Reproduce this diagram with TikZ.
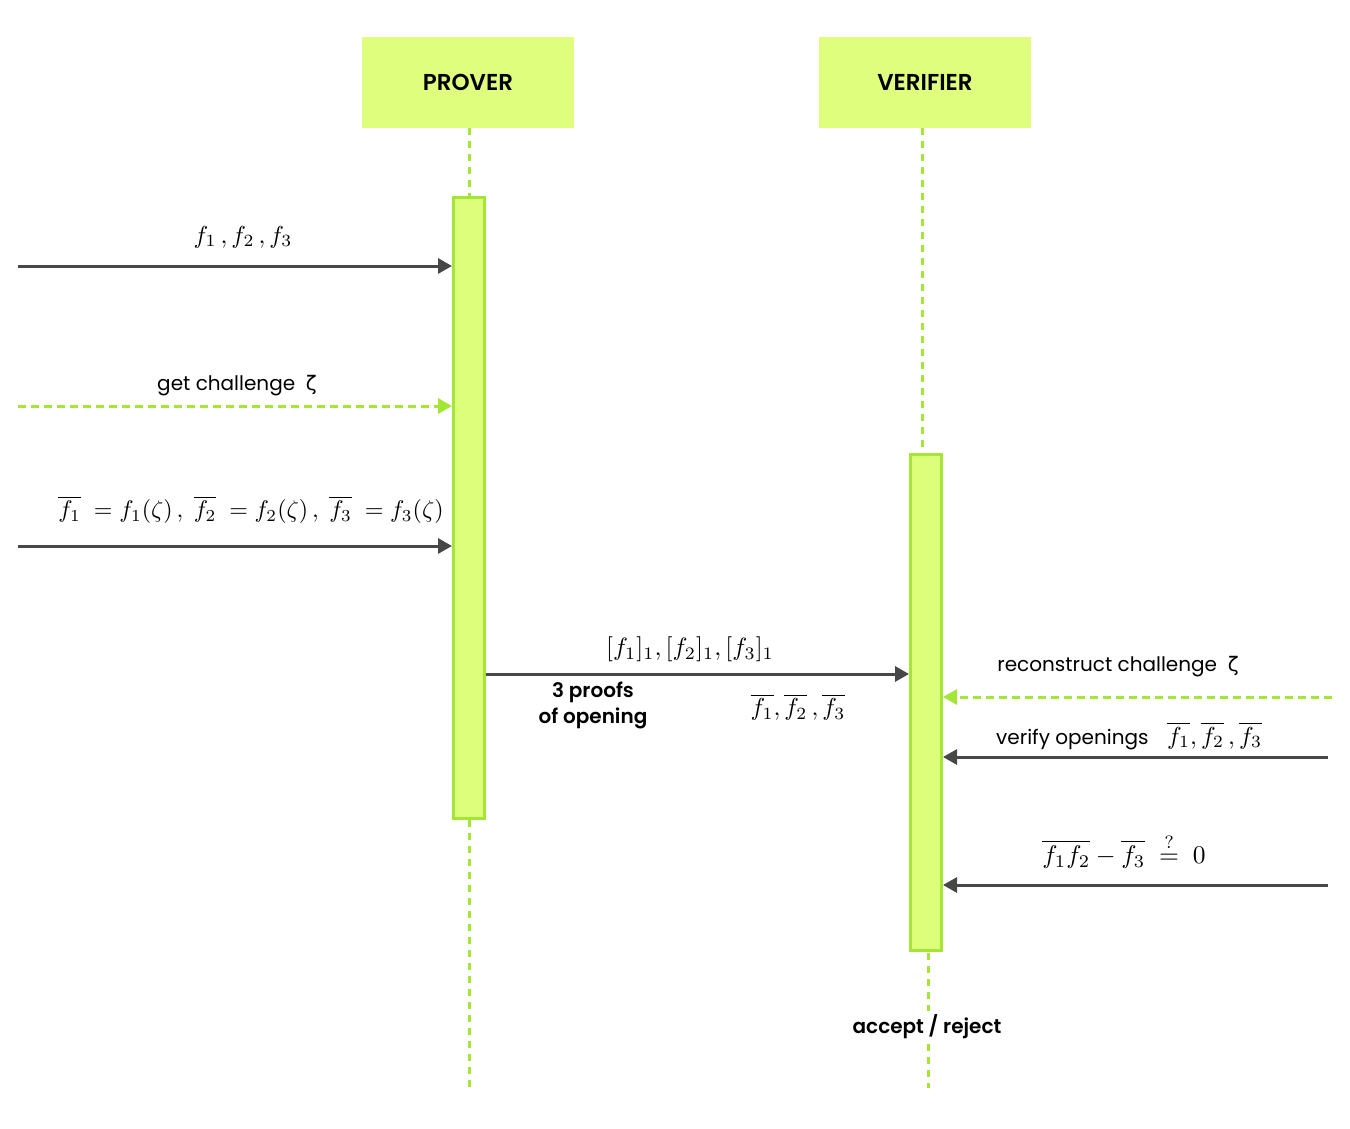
\documentclass[tikz,border=0pt]{standalone}
\usepackage{fontspec}
\setmainfont{Poppins}[BoldFont={Poppins SemiBold}]
\newfontfamily\grk{DejaVu Sans}
\usetikzlibrary{arrows.meta}
\definecolor{limefill}{HTML}{E0FE7E}
\definecolor{limebar}{HTML}{DDFE7A}
\definecolor{limeline}{HTML}{A3E635}
\definecolor{arrowgray}{HTML}{474747}
\newcommand{\bigmath}[2]{\scalebox{#1}{\fontsize{10}{12}\selectfont$#2$}}
\begin{document}
\begin{tikzpicture}[x=1pt,y=-1pt,
  header/.style={fill=limefill, minimum width=212pt, minimum height=91pt, inner sep=0pt,
    font=\fontsize{23}{27}\selectfont\bfseries},
  actbar/.style={fill=limebar, draw=limeline, line width=3pt, inner sep=0pt, minimum width=31pt},
  life/.style={limeline, line width=3pt, dash pattern=on 7pt off 6pt},
  msg/.style={arrowgray, line width=3pt, -{Triangle[length=14pt,width=15pt]}},
  ret/.style={limeline, line width=3pt, dash pattern=on 8pt off 5pt, -{Triangle[length=14pt,width=15pt]}},
  txt/.style={inner sep=1pt, font=\fontsize{20}{24}\selectfont},
  btxt/.style={inner sep=1pt, font=\fontsize{20}{26}\selectfont\bfseries, align=center},
  mth/.style={inner sep=1pt}
]
\useasboundingbox (0,0) rectangle (1350,1129);

% headers
\node[header] (prover) at (468,82.5) {PROVER};
\node[header] (verifier) at (925,82.5) {VERIFIER};

% activation bars
\node[actbar, minimum height=621pt] (pbar) at (469,508) {};
\node[actbar, minimum height=496pt] (vbar) at (926,702.5) {};

% lifelines
\coordinate (pend) at (469,1088);
\coordinate (vend) at (928,1088);
\draw[life] (prover.south -| pbar.north) -- (pbar.north);
\draw[life] (pbar.south) -- (pend);
\draw[life] (922,128) -- (922,452);
\draw[life] (928,953) -- (vend);

% left messages
\coordinate (s1) at (18,266);
\coordinate (s2) at (18,406);
\coordinate (s3) at (18,546);
\draw[msg] (s1) -- (s1 -| pbar.west);
\draw[ret] (s2) -- (s2 -| pbar.west);
\draw[msg] (s3) -- (s3 -| pbar.west);

\node[mth] (l1) at (243,237) {\bigmath{2.45}{f_1\,,f_2\,,f_3}};
\node[txt] (l2) at (237,386) {get challenge\ \ {\grk ζ}};
\node[mth] (l3) at (251,510) {\bigmath{2.4}{\overline{f_1}\ =f_1(\zeta)\,,\ \overline{f_2}\ =f_2(\zeta)\,,\ \overline{f_3}\ =f_3(\zeta)}};

% prover -> verifier
\coordinate (m4) at (486,674);
\draw[msg] (pbar.east |- m4) -- (vbar.west |- m4);
\node[mth] (l4) at (690,649) {\bigmath{2.5}{[f_1]_1,[f_2]_1,[f_3]_1}};
\node[btxt] (l5) at (593,705) {3 proofs\\of opening};
\node[mth] (l6) at (798,707) {\bigmath{2.45}{\overline{f_1},\overline{f_2}\,,\overline{f_3}}};

% right messages
\coordinate (r1) at (1332,697);
\coordinate (r2) at (1328,757);
\coordinate (r3) at (1328,885);
\draw[ret] (r1) -- (r1 -| vbar.east);
\draw[msg] (r2) -- (r2 -| vbar.east);
\draw[msg] (r3) -- (r3 -| vbar.east);

\node[txt] (l7) at (1118,667) {reconstruct challenge\ \ {\grk ζ}};
\node[txt, anchor=base west] (l8a) at (995,744) {verify openings};
\node[mth, anchor=base west] (l8b) at (1166,744) {\bigmath{2.45}{\overline{f_1},\overline{f_2}\,,\overline{f_3}}};
\node[mth] (l9) at (1124,851) {\bigmath{2.55}{\overline{f_1f_2}-\overline{f_3}\ \stackrel{?}{=}\ 0}};

% result
\node[btxt, fill=white, inner sep=4pt] (res) at (927,1027) {accept / reject};
\end{tikzpicture}
\end{document}
